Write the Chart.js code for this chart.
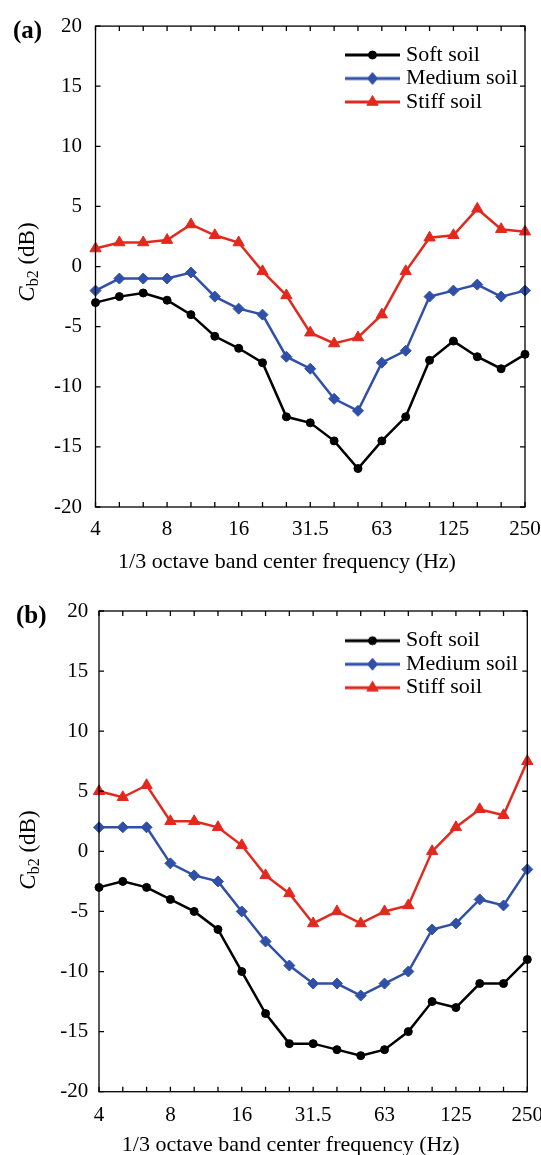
<!DOCTYPE html>
<html>
<head>
<meta charset="utf-8">
<script src="https://cdn.jsdelivr.net/npm/chart.js@4.4.1/dist/chart.umd.min.js"></script>
<style>
  html, body { margin: 0; padding: 0; background: #fff; }
  body { width: 541px; height: 1155px; position: relative; overflow: hidden; }
  canvas { position: absolute; left: 0; }
  .ytitle { position: absolute; transform: translate(-50%, -50%) rotate(-90deg); font-family: 'Liberation Serif', serif; font-size: 23px; line-height: 1; white-space: nowrap; color: #000; }
  .ytitle sub { font-size: 16px; vertical-align: -0.3em; }
  .plabel { position: absolute; font-family: 'Liberation Serif', serif; font-weight: bold; font-size: 25px; line-height: 1; color: #000; }
</style>
</head>
<body>
<canvas id="chartA" width="541" height="580" style="top:0px"></canvas>
<canvas id="chartB" width="541" height="575" style="top:580px"></canvas>
<div class="plabel" style="left:13px; top:17px;">(a)</div>
<div class="plabel" style="left:16px; top:602px;">(b)</div>
<div class="ytitle" style="left:28px; top:262px;"><i>C</i><sub>b2</sub> (dB)</div>
<div class="ytitle" style="left:29px; top:850px;"><i>C</i><sub>b2</sub> (dB)</div>
<script>
// ---- data ----
const freqLabels = ['4','5','6.3','8','10','12.5','16','20','25','31.5','40','50','63','80','100','125','160','200','250'];
const shownTickLabels = ['4','8','16','31.5','63','125','250'];
const seriesNames = ['Soft soil', 'Medium soil', 'Stiff soil'];

const softA   = [-3, -2.5, -2.2, -2.8, -4, -5.8, -6.8, -8, -12.5, -13, -14.5, -16.8, -14.5, -12.5, -7.8, -6.2, -7.5, -8.5, -7.3];
const mediumA = [-2, -1, -1, -1, -0.5, -2.5, -3.5, -4, -7.5, -8.5, -11, -12, -8, -7, -2.5, -2, -1.5, -2.5, -2];
const stiffA  = [1.5, 2, 2, 2.2, 3.5, 2.6, 2, -0.4, -2.4, -5.5, -6.4, -5.9, -4, -0.4, 2.4, 2.6, 4.8, 3.1, 2.9];

const softB   = [-3, -2.5, -3, -4, -5, -6.5, -10, -13.5, -16, -16, -16.5, -17, -16.5, -15, -12.5, -13, -11, -11, -9];
const mediumB = [2, 2, 2, -1, -2, -2.5, -5, -7.5, -9.5, -11, -11, -12, -11, -10, -6.5, -6, -4, -4.5, -1.5];
const stiffB  = [5, 4.5, 5.5, 2.5, 2.5, 2, 0.5, -2, -3.5, -6, -5, -6, -5, -4.5, 0, 2, 3.5, 3, 7.5];

const yMin = -20, yMax = 20, yStep = 5;
const xTitle = '1/3 octave band center frequency (Hz)';

// ---- styles ----
const FONT = "'Liberation Serif', serif";
const colors = ['#000000', '#3050A8', '#E2291E'];
const pointStyles = ['circle', 'rectRot', 'triangle'];
const pointRadii = [4, 5.5, 6.5];

Chart.defaults.color = '#000';
Chart.defaults.font.family = FONT;

function legendImage(color, style) {
  const c = document.createElement('canvas');
  c.width = 60; c.height = 18;
  const g = c.getContext('2d');
  g.strokeStyle = color; g.fillStyle = color; g.lineWidth = 3;
  g.beginPath(); g.moveTo(5, 9); g.lineTo(60, 9); g.stroke();
  const cx = 32.5, cy = 9;
  g.lineWidth = 1;
  g.beginPath();
  if (style === 'circle') {
    g.arc(cx, cy, 4, 0, Math.PI * 2);
  } else if (style === 'rectRot') {
    g.moveTo(cx, cy - 6); g.lineTo(cx + 5, cy); g.lineTo(cx, cy + 6); g.lineTo(cx - 5, cy); g.closePath();
  } else {
    const r = 6.5;
    g.moveTo(cx, cy - r); g.lineTo(cx + r * 0.866, cy + r * 0.5); g.lineTo(cx - r * 0.866, cy + r * 0.5); g.closePath();
  }
  g.fill(); g.stroke();
  return c;
}
const legendImgs = colors.map((c, i) => legendImage(c, pointStyles[i]));

const frameTicks = {
  id: 'frameTicks',
  afterDatasetsDraw(chart) {
    const {ctx, chartArea: a, scales: {x, y}} = chart;
    ctx.save();
    ctx.strokeStyle = '#000';
    ctx.lineWidth = 1.3;
    ctx.beginPath();
    const L = 5;
    x.ticks.forEach((t, i) => {
      const px = x.getPixelForTick(i);
      ctx.moveTo(px, a.bottom); ctx.lineTo(px, a.bottom - L);
      ctx.moveTo(px, a.top); ctx.lineTo(px, a.top + L);
    });
    y.ticks.forEach((t, i) => {
      const py = y.getPixelForTick(i);
      ctx.moveTo(a.left, py); ctx.lineTo(a.left + L, py);
      ctx.moveTo(a.right, py); ctx.lineTo(a.right - L, py);
    });
    ctx.stroke();
    ctx.strokeRect(a.left, a.top, a.right - a.left, a.bottom - a.top);
    ctx.restore();
  }
};

const legendPlacer = {
  id: 'legendPlacer',
  afterLayout(chart) {
    const lg = chart.legend;
    const p = chart.options.plugins.legendPlacer;
    if (!lg || !p) return;
    lg.left = p.left; lg.top = p.top;
    lg.width = 541 - p.left; lg.height = 110;
    lg.right = lg.left + lg.width; lg.bottom = lg.top + lg.height;
  }
};

function makeChart(id, seriesData, lay) {
  const datasets = seriesData.map((d, i) => ({
    label: seriesNames[i],
    data: d,
    borderColor: colors[i],
    backgroundColor: colors[i],
    pointBackgroundColor: colors[i],
    pointBorderColor: colors[i],
    pointStyle: pointStyles[i],
    pointRadius: pointRadii[i],
    pointBorderWidth: 1,
    borderWidth: 2.5,
    tension: 0,
    clip: false
  }));
  return new Chart(document.getElementById(id), {
    type: 'line',
    data: { labels: freqLabels, datasets },
    plugins: [frameTicks, legendPlacer],
    options: {
      responsive: false,
      animation: false,
      devicePixelRatio: 1,
      layout: { padding: lay.padding },
      plugins: {
        legend: {
          position: 'chartArea',
          align: 'start',
          labels: {
            usePointStyle: true,
            pointStyleWidth: 50,
            padding: 1.5,
            color: '#000',
            font: { family: FONT, size: 22 },
            generateLabels(chart) {
              const items = Chart.defaults.plugins.legend.labels.generateLabels(chart);
              items.forEach((it, i) => { it.pointStyle = legendImgs[i]; });
              return items;
            }
          }
        },
        legendPlacer: lay.legend,
        title: {
          display: true,
          text: xTitle,
          position: 'bottom',
          color: '#000',
          font: { family: FONT, size: 22, weight: 'normal', lineHeight: lay.titleLH },
          padding: { top: 0, bottom: lay.titlePadB }
        },
        tooltip: { enabled: false }
      },
      scales: {
        x: {
          type: 'category',
          offset: false,
          grid: { display: false, drawTicks: false },
          border: { display: false },
          ticks: {
            autoSkip: false,
            maxRotation: 0,
            minRotation: 0,
            padding: lay.xTickPad,
            color: '#000',
            font: { family: FONT, size: 21 },
            callback(v, i) {
              const lab = freqLabels[i];
              return shownTickLabels.includes(lab) ? lab : '';
            }
          },
          afterFit(s) { s.height = lay.xHeight; s.paddingLeft = 0; s.paddingRight = 0; }
        },
        y: {
          min: yMin, max: yMax,
          grid: { display: false, drawTicks: false },
          border: { display: false },
          ticks: {
            stepSize: yStep,
            padding: lay.yTickPad,
            color: '#000',
            font: { family: FONT, size: 21 }
          },
          afterFit(s) { s.width = lay.yWidth; }
        }
      }
    }
  });
}

makeChart('chartA', [softA, mediumA, stiffA], {
  padding: { left: 49, right: 16, top: 26, bottom: 0 },
  yWidth: 46.5, yTickPad: 13.5,
  xHeight: 44, xTickPad: 9.4,
  titleLH: 1, titlePadB: 7,
  legend: { left: 343.5, top: 42.5 }
});
makeChart('chartB', [softB, mediumB, stiffB], {
  padding: { left: 54.1, right: 13.7, top: 31, bottom: 0 },
  yWidth: 44.9, yTickPad: 10.7,
  xHeight: 43.5, xTickPad: 10.7,
  titleLH: 0.9, titlePadB: 0,
  legend: { left: 343.5, top: 48.2 }
});
</script>
</body>
</html>
